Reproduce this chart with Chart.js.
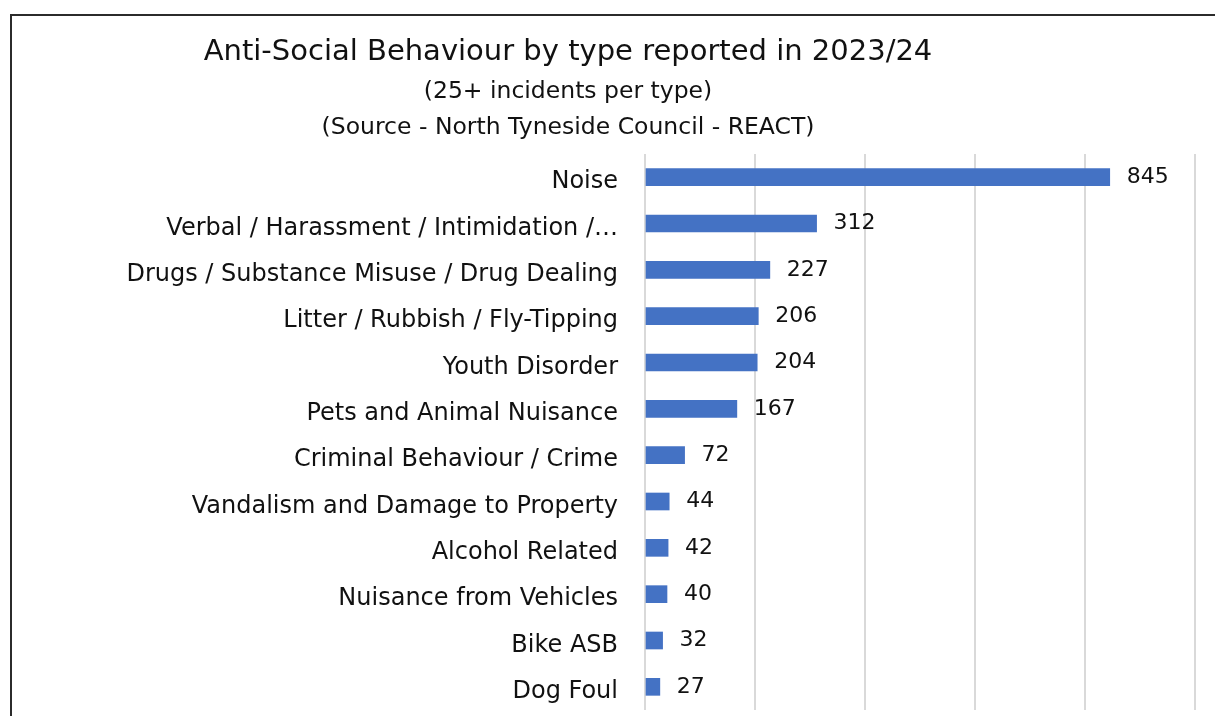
<!DOCTYPE html>
<html>
<head>
<meta charset="utf-8">
<script src="https://cdn.jsdelivr.net/npm/chart.js@4/dist/chart.umd.min.js"></script>
<style>
  html, body { margin: 0; padding: 0; background: #fff; overflow: hidden; }
  #wrap { position: relative; width: 1215px; height: 716px; }
  #asbChart { display: block; }
  #frame {
    position: absolute; left: 10px; top: 14px; width: 1300px; height: 800px;
    border-top: 2px solid #2b2b2b; border-left: 2px solid #2b2b2b; pointer-events: none;
  }
</style>
</head>
<body>
<div id="wrap">
  <canvas id="asbChart" width="1215" height="716"></canvas>
  <div id="frame"></div>
</div>
<script>
// chart data
const categories = [
    'Noise',
    'Verbal / Harassment / Intimidation /…',
    'Drugs / Substance Misuse / Drug Dealing',
    'Litter / Rubbish / Fly-Tipping',
    'Youth Disorder',
    'Pets and Animal Nuisance',
    'Criminal Behaviour / Crime',
    'Vandalism and Damage to Property',
    'Alcohol Related',
    'Nuisance from Vehicles',
    'Bike ASB',
    'Dog Foul'
];
const incidents = [845, 312, 227, 206, 204, 167, 72, 44, 42, 40, 32, 27];
const xTicks = [0, 200, 400, 600, 800, 1000];

const titleText = 'Anti-Social Behaviour by type reported in 2023/24';
const subtitleLines = ['(25+ incidents per type)', '(Source - North Tyneside Council - REACT)'];

const FONT = '"DejaVu Sans", sans-serif';

// title drawn left of centre, like the original
const titlePlugin = {
    id: 'titleBlock',
    afterDraw(chart) {
        const c = chart.ctx;
        c.save();
        c.fillStyle = '#111';
        c.textAlign = 'center';
        c.textBaseline = 'middle';
        c.font = '29px ' + FONT;
        c.fillText(titleText, 568, 52);
        c.font = '23.5px ' + FONT;
        c.fillText(subtitleLines[0], 568, 92);
        c.fillText(subtitleLines[1], 568, 128);
        c.restore();
    }
};

// value labels at the end of each bar
const valueLabels = {
    id: 'valueLabels',
    afterDatasetsDraw(chart) {
        const c = chart.ctx;
        const meta = chart.getDatasetMeta(0);
        c.save();
        c.fillStyle = '#111';
        c.font = '22px ' + FONT;
        c.textAlign = 'left';
        c.textBaseline = 'middle';
        meta.data.forEach((bar, i) => {
            c.fillText(String(incidents[i]), bar.x + 17, bar.y);
        });
        c.restore();
    }
};

const ctx = document.getElementById('asbChart').getContext('2d');
const asbChart = new Chart(ctx, {
    type: 'bar',
    data: {
        labels: categories,
        datasets: [{
            data: incidents,
            backgroundColor: '#4472C4',
            barThickness: 17
        }]
    },
    options: {
        indexAxis: 'y',
        responsive: false,
        animation: false,
        layout: { padding: { top: 154, right: 20, bottom: 6, left: 0 } },
        scales: {
            x: {
                min: xTicks[0],
                max: xTicks[xTicks.length - 1],
                afterBuildTicks: (scale) => { scale.ticks = xTicks.map(v => ({ value: v })); },
                ticks: { display: false },
                grid: { color: '#d9d9d9', lineWidth: 2, drawTicks: false },
                border: { display: false },
                afterFit: (scale) => { scale.height = 0; }
            },
            y: {
                grid: { display: false, drawTicks: false },
                border: { display: false },
                ticks: { color: '#111', font: { family: FONT, size: 24 }, padding: 27, labelOffset: 5, autoSkip: false },
                afterFit: (scale) => {
                    scale.width = 645;
                    // don't let label height push the plot area in
                    scale.paddingTop = 0;
                    scale.paddingBottom = 0;
                }
            }
        },
        plugins: {
            legend: { display: false },
            title: { display: false },
            tooltip: { enabled: false }
        }
    },
    plugins: [titlePlugin, valueLabels]
});
</script>
</body>
</html>
